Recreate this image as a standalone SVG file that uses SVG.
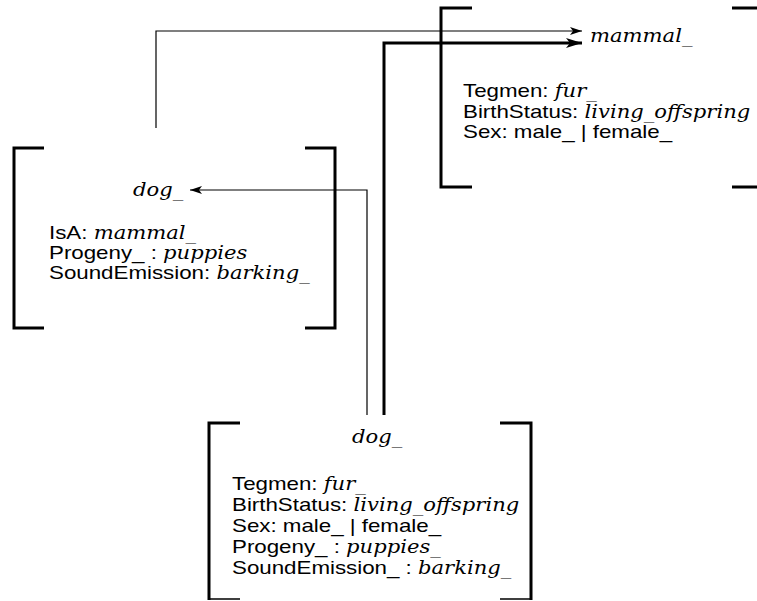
<svg xmlns="http://www.w3.org/2000/svg" width="757" height="601" viewBox="0 0 757 601">
  <defs>
    <marker id="head-thin" viewBox="0 0 12 8" refX="12" refY="4" markerWidth="12" markerHeight="8" markerUnits="userSpaceOnUse" orient="auto">
      <path d="M0,0 L12,4 L0,8 L3,4 Z" fill="#000"/>
    </marker>
    <marker id="head-thick" viewBox="0 0 16 10" refX="16" refY="5" markerWidth="16" markerHeight="10" markerUnits="userSpaceOnUse" orient="auto">
      <path d="M0,0 L16,5 L0,10 L4,5 Z" fill="#000"/>
    </marker>
  </defs>
  <style>
    .bracket { fill: none; stroke: #000; stroke-width: 3; }
    .sans { font-family: "Liberation Sans", Arial, sans-serif; font-size: 18.6px; fill: #000; }
    .name, .val { font-family: "DejaVu Serif", "Liberation Serif", serif; font-style: italic; font-size: 17.6px; fill: #000; }
    .thin { fill: none; stroke: #000; stroke-width: 1.2; }
    .thick { fill: none; stroke: #000; stroke-width: 3; }
  </style>
  <rect width="757" height="601" fill="#fff"/>

  <!-- mammal_ frame -->
  <g id="mammal">
    <path class="bracket" d="M472,8 H441 V187 H472"/>
    <path class="bracket" d="M732,8 H760 M732,187 H760"/>
    <text class="name" transform="translate(590,42) scale(1.2,1)">mammal_</text>
    <text class="sans" transform="translate(463,97) scale(1.2,1)">Tegmen: <tspan class="val">fur_</tspan></text>
    <text class="sans" transform="translate(463,117.5) scale(1.2,1)">BirthStatus: <tspan class="val">living_offspring</tspan></text>
    <text class="sans" transform="translate(463,138) scale(1.2,1)">Sex: male_ | female_</text>
  </g>

  <!-- dog_ frame (class) -->
  <g id="dog-class">
    <path class="bracket" d="M44,148 H14 V328 H44"/>
    <path class="bracket" d="M305,148 H335 V328 H305"/>
    <text class="name" transform="translate(133,196) scale(1.2,1)">dog_</text>
    <text class="sans" transform="translate(49,239) scale(1.2,1)">IsA: <tspan class="val">mammal_</tspan></text>
    <text class="sans" transform="translate(49,259) scale(1.2,1)">Progeny_ : <tspan class="val">puppies</tspan></text>
    <text class="sans" transform="translate(49,279) scale(1.2,1)">SoundEmission: <tspan class="val">barking_</tspan></text>
  </g>

  <!-- dog_ frame (inherited view) -->
  <g id="dog-inherited">
    <path class="bracket" d="M240,423 H209 V600"/>
    <path class="bracket" d="M500,423 H531 V600"/>
    <path d="M209,599 H240 M500,599 H531" stroke="#000" stroke-width="1.5"/>
    <text class="name" transform="translate(352,443) scale(1.2,1)">dog_</text>
    <text class="sans" transform="translate(232,490) scale(1.2,1)">Tegmen: <tspan class="val">fur_</tspan></text>
    <text class="sans" transform="translate(232,511) scale(1.2,1)">BirthStatus: <tspan class="val">living_offspring</tspan></text>
    <text class="sans" transform="translate(232,531.5) scale(1.2,1)">Sex: male_ | female_</text>
    <text class="sans" transform="translate(232,552.5) scale(1.2,1)">Progeny_ : <tspan class="val">puppies_</tspan></text>
    <text class="sans" transform="translate(232,573.5) scale(1.2,1)">SoundEmission_ : <tspan class="val">barking_</tspan></text>
  </g>

  <!-- connectors -->
  <g id="connectors">
    <path class="thin" d="M156,128 V31 H582" marker-end="url(#head-thin)"/>
    <path class="thick" d="M384,415 V43 H582" marker-end="url(#head-thick)"/>
    <path class="thin" d="M367,415 V190 H190" marker-end="url(#head-thin)"/>
  </g>
</svg>
